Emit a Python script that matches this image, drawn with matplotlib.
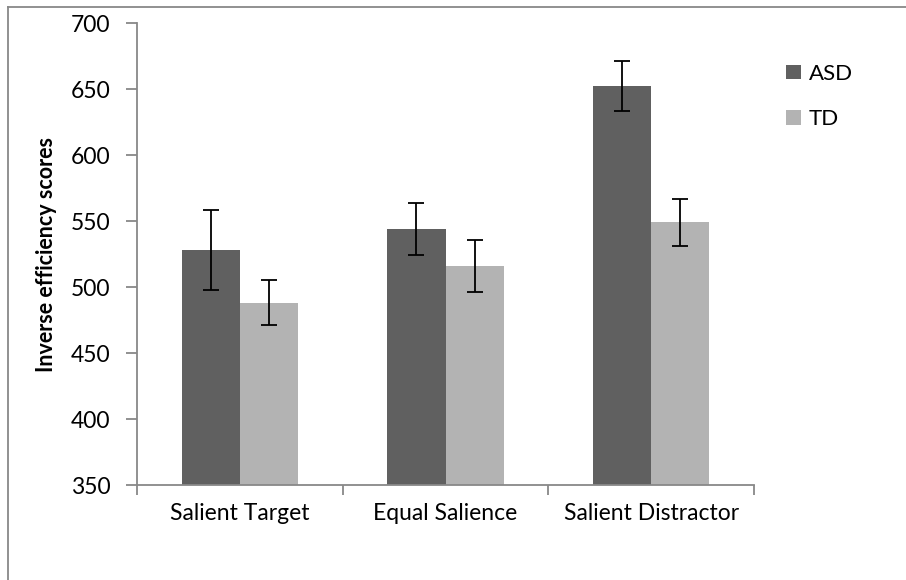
import numpy as np
import matplotlib.pyplot as plt
from matplotlib.lines import Line2D

plt.rcParams['font.family'] = ['Lato', 'DejaVu Sans']

categories = ['Salient Target', 'Equal Salience', 'Salient Distractor']
asd = [528, 544, 652]
td = [488, 516, 549]
asd_err = [30, 19.5, 19]
td_err = [17, 19.5, 18]

dark = '#606060'
light = '#b3b3b3'
axcol = '#888888'

fig = plt.figure(figsize=(9.06, 5.80), dpi=100)
ax = fig.add_axes([137/906, 1-485/580, (754-137)/906, (485-23)/580])

x = np.arange(len(categories))
w = 0.283
ax.bar(x - w/2, asd, w, color=dark, label='ASD', zorder=2)
ax.bar(x + w/2, td, w, color=light, label='TD', zorder=2)
ax.errorbar(x - w/2, asd, yerr=asd_err, fmt='none', ecolor='black',
            elinewidth=1.3, capsize=6, capthick=1.3, zorder=3)
ax.errorbar(x + w/2, td, yerr=td_err, fmt='none', ecolor='black',
            elinewidth=1.3, capsize=6, capthick=1.3, zorder=3)

ax.set_ylim(350, 700)
ax.set_xlim(-0.5, 2.5)
ax.set_yticks(np.arange(350, 701, 50))
ax.set_xticks(np.arange(-0.5, 2.6, 1))
ax.set_xticklabels([])
ax.set_xticks(x, minor=True)
ax.set_xticklabels(categories, minor=True, fontsize=16.5)
ax.tick_params(axis='x', which='minor', length=0, pad=13)
ax.tick_params(axis='x', which='major', length=7, color=axcol, width=1.3, direction='out')
ax.tick_params(axis='y', length=8, color=axcol, width=1.3, labelsize=16.5, pad=11)

for s in ['top', 'right']:
    ax.spines[s].set_visible(False)
for s in ['left', 'bottom']:
    ax.spines[s].set_color(axcol)
    ax.spines[s].set_linewidth(1.3)

ax.set_ylabel('Inverse efficiency scores', fontsize=15.5, fontweight='bold', labelpad=10)

ax.legend(loc='upper left', bbox_to_anchor=(1.02, 0.955), frameon=False,
          fontsize=16, handlelength=0.65, handleheight=0.65, handletextpad=0.35,
          labelspacing=1.15)

# outer chart frame
fig.add_artist(Line2D([8/906, 8/906], [0, 1-7/580], transform=fig.transFigure,
                      color=axcol, linewidth=1.3))
fig.add_artist(Line2D([8/906, 1], [1-7/580, 1-7/580], transform=fig.transFigure,
                      color=axcol, linewidth=1.3))

fig.savefig('out.png', dpi=100)
